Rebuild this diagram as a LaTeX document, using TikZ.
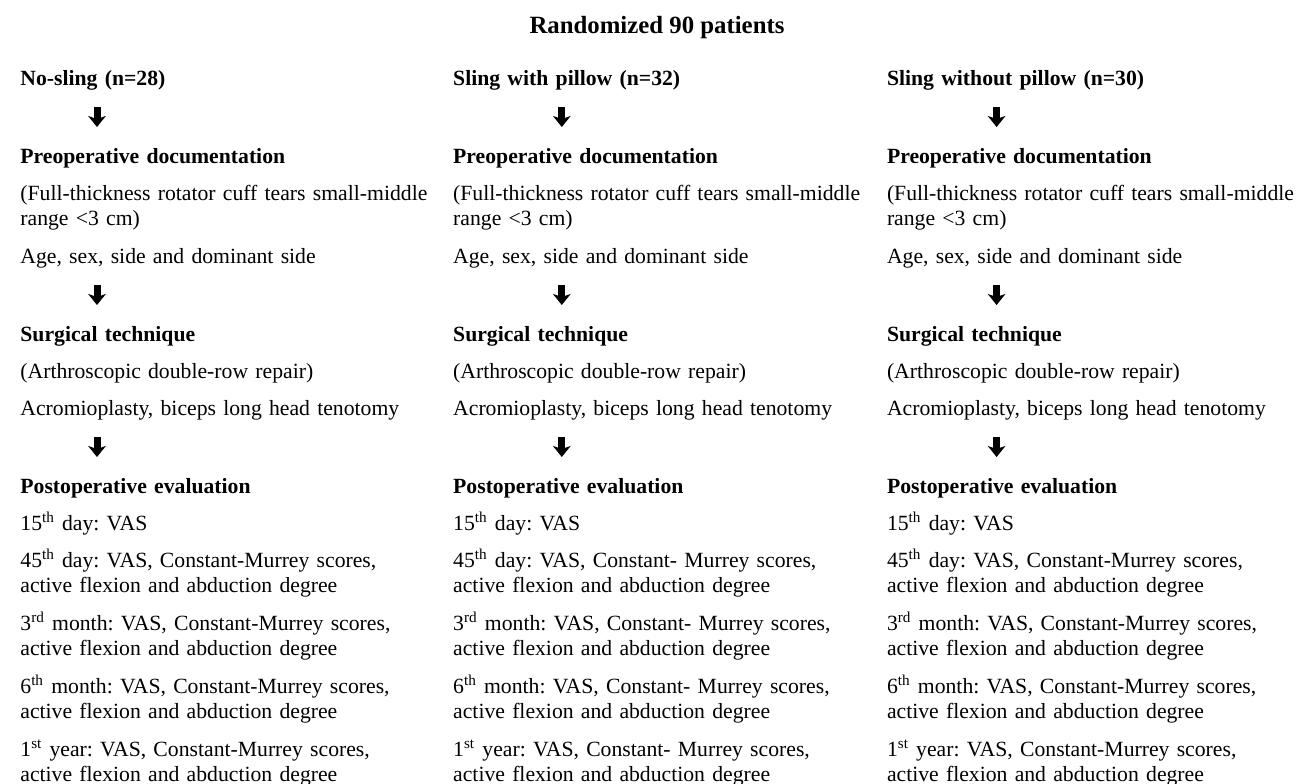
\documentclass[tikz,border=0pt]{standalone}
\usepackage{fontspec}
\setmainfont{Liberation Serif}
\usetikzlibrary{arrows.meta,positioning}
\frenchspacing

\begin{document}
\begin{tikzpicture}[ -, node distance = 1pt,
                    every node/.style = {font=\fontsize{10.85}{12.75}\selectfont},
                    txt/.style = {text width=215pt, align=left, inner sep=0pt, anchor=base west},
                    hd/.style = {txt, font=\bfseries\fontsize{10.85}{12.75}\selectfont},
                    after1/.style = {below=18.5pt of #1.base west, anchor=base west},
                    after2/.style = {below=31.5pt of #1.base west, anchor=base west},
                    afterarr/.style = {below=39pt of #1.base west, anchor=base west},
                    arr/.style = {-{Stealth[length=5.5pt, width=8.8pt, inset=1.5pt]}, line width=3.5pt,
                                  shorten <=11pt, shorten >=18pt}]
\useasboundingbox (0,0) rectangle (648pt,-391.5pt);
\node[font=\bfseries\fontsize{12.4}{14}\selectfont, anchor=base] (t) at (328.5pt,-16.5pt) {Randomized 90 patients};
% column 1
\node[hd] (a1) at (10pt,-42.5pt) {No-sling (n=28)};
\node[hd, afterarr=a1] (a2) {Preoperative documentation};
\node[txt, after1=a2] (a3) {(Full-thickness rotator cuff tears small-middle\\range <3 cm)};
\node[txt, after2=a3] (a4) {Age, sex, side and dominant side};
\node[hd, afterarr=a4] (a5) {Surgical technique};
\node[txt, after1=a5] (a6) {(Arthroscopic double-row repair)};
\node[txt, after1=a6] (a7) {Acromioplasty, biceps long head tenotomy};
\node[hd, afterarr=a7] (a8) {Postoperative evaluation};
\node[txt, after1=a8] (a9) {15\textsuperscript{th} day: VAS};
\node[txt, after1=a9] (a10) {45\textsuperscript{th} day: VAS, Constant-Murrey scores,\\active flexion and abduction degree};
\node[txt, after2=a10] (a11) {3\textsuperscript{rd} month: VAS, Constant-Murrey scores,\\active flexion and abduction degree};
\node[txt, after2=a11] (a12) {6\textsuperscript{th} month: VAS, Constant-Murrey scores,\\active flexion and abduction degree};
\node[txt, after2=a12] (a13) {1\textsuperscript{st} year: VAS, Constant-Murrey scores,\\active flexion and abduction degree};
% column 2
\node[hd, right=1pt of a1.base east, anchor=base west] (b1) {Sling with pillow (n=32)};
\node[hd, afterarr=b1] (b2) {Preoperative documentation};
\node[txt, after1=b2] (b3) {(Full-thickness rotator cuff tears small-middle\\range <3 cm)};
\node[txt, after2=b3] (b4) {Age, sex, side and dominant side};
\node[hd, afterarr=b4] (b5) {Surgical technique};
\node[txt, after1=b5] (b6) {(Arthroscopic double-row repair)};
\node[txt, after1=b6] (b7) {Acromioplasty, biceps long head tenotomy};
\node[hd, afterarr=b7] (b8) {Postoperative evaluation};
\node[txt, after1=b8] (b9) {15\textsuperscript{th} day: VAS};
\node[txt, after1=b9] (b10) {45\textsuperscript{th} day: VAS, Constant- Murrey scores,\\active flexion and abduction degree};
\node[txt, after2=b10] (b11) {3\textsuperscript{rd} month: VAS, Constant- Murrey scores,\\active flexion and abduction degree};
\node[txt, after2=b11] (b12) {6\textsuperscript{th} month: VAS, Constant- Murrey scores,\\active flexion and abduction degree};
\node[txt, after2=b12] (b13) {1\textsuperscript{st} year: VAS, Constant- Murrey scores,\\active flexion and abduction degree};
% column 3
\node[hd, right=1.5pt of b1.base east, anchor=base west] (c1) {Sling without pillow (n=30)};
\node[hd, afterarr=c1] (c2) {Preoperative documentation};
\node[txt, after1=c2] (c3) {(Full-thickness rotator cuff tears small-middle\\range <3 cm)};
\node[txt, after2=c3] (c4) {Age, sex, side and dominant side};
\node[hd, afterarr=c4] (c5) {Surgical technique};
\node[txt, after1=c5] (c6) {(Arthroscopic double-row repair)};
\node[txt, after1=c6] (c7) {Acromioplasty, biceps long head tenotomy};
\node[hd, afterarr=c7] (c8) {Postoperative evaluation};
\node[txt, after1=c8] (c9) {15\textsuperscript{th} day: VAS};
\node[txt, after1=c9] (c10) {45\textsuperscript{th} day: VAS, Constant-Murrey scores,\\active flexion and abduction degree};
\node[txt, after2=c10] (c11) {3\textsuperscript{rd} month: VAS, Constant-Murrey scores,\\active flexion and abduction degree};
\node[txt, after2=c11] (c12) {6\textsuperscript{th} month: VAS, Constant-Murrey scores,\\active flexion and abduction degree};
\node[txt, after2=c12] (c13) {1\textsuperscript{st} year: VAS, Constant-Murrey scores,\\active flexion and abduction degree};
% arrows
\draw[arr] ([xshift=38.5pt]a1.base west) -- ([xshift=38.5pt]a2.base west);
\draw[arr] ([xshift=38.5pt]a4.base west) -- ([xshift=38.5pt]a5.base west);
\draw[arr] ([xshift=38.5pt]a7.base west) -- ([xshift=38.5pt]a8.base west);
\draw[arr] ([xshift=54.5pt]b1.base west) -- ([xshift=54.5pt]b2.base west);
\draw[arr] ([xshift=54.5pt]b4.base west) -- ([xshift=54.5pt]b5.base west);
\draw[arr] ([xshift=54.5pt]b7.base west) -- ([xshift=54.5pt]b8.base west);
\draw[arr] ([xshift=55pt]c1.base west) -- ([xshift=55pt]c2.base west);
\draw[arr] ([xshift=55pt]c4.base west) -- ([xshift=55pt]c5.base west);
\draw[arr] ([xshift=55pt]c7.base west) -- ([xshift=55pt]c8.base west);
\end{tikzpicture}
\end{document}
